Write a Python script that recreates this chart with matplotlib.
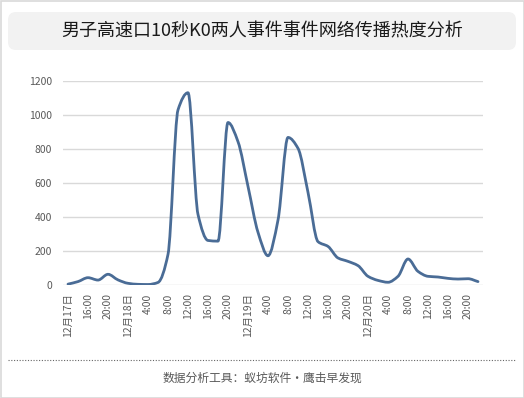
import matplotlib
matplotlib.use("Agg")
import matplotlib.pyplot as plt
from matplotlib.path import Path
from matplotlib.patches import PathPatch, FancyBboxPatch, Rectangle
from matplotlib.lines import Line2D
import matplotlib.transforms as mtransforms
import numpy as np

plt.rcParams['font.family'] = ['Noto Sans CJK SC', 'DejaVu Sans']

title = "男子高速口10秒K0两人事件事件网络传播热度分析"
footer = "数据分析工具：蚁坊软件·鹰击早发现"

# 2-hourly heat values from 12月17日 12:00 to 12月20日 22:00
values = [5, 20, 43, 29, 63, 30, 10, 4, 3, 15,
          180, 1030, 1131, 415, 262, 258, 956, 843, 580, 310,
          172, 382, 868, 804, 545, 255, 227, 159, 139, 114,
          51, 27, 16, 51, 153, 80, 51, 47, 39, 35,
          37, 20]
tick_labels = ['12月17日', '16:00', '20:00', '12月18日', '4:00', '8:00', '12:00',
               '16:00', '20:00', '12月19日', '4:00', '8:00', '12:00', '16:00',
               '20:00', '12月20日', '4:00', '8:00', '12:00', '16:00', '20:00']
y_ticks = [0, 200, 400, 600, 800, 1000, 1200]

W, H = 524, 398
fig = plt.figure(figsize=(W / 100, H / 100), dpi=100)
fig.patch.set_facecolor('white')

# outer border
fig.patches.append(Rectangle((0.5, 0.5), W - 1, H - 1, transform=mtransforms.IdentityTransform(),
                             fill=False, edgecolor='#d9d9d9', linewidth=1.2))
# title box
fig.patches.append(FancyBboxPatch((8, H - 50), 508, 38,
                                  boxstyle="round,pad=0,rounding_size=8",
                                  transform=mtransforms.IdentityTransform(),
                                  facecolor='#f2f2f2', edgecolor='none'))
fig.text(262 / W, 1 - 31 / H, title, ha='center', va='center', fontsize=13, color='#1a1a1a')

ax = fig.add_axes([63 / W, (H - 285) / H, (483 - 63) / W, (285 - 81) / H])
n = len(values)
x = np.arange(n, dtype=float)
y = np.array(values, dtype=float)

# smoothed line: cubic Bezier through the data points with monotone tangents
d = np.diff(y)
m = np.zeros(n)
m[0], m[-1] = d[0], d[-1]
for i in range(1, n - 1):
    if d[i - 1] * d[i] <= 0:
        m[i] = 0.0
    else:
        m[i] = 2.0 / (1.0 / d[i - 1] + 1.0 / d[i])
verts = [(x[0], y[0])]
codes = [Path.MOVETO]
for i in range(n - 1):
    verts += [(x[i] + 1 / 3, y[i] + m[i] / 3),
              (x[i + 1] - 1 / 3, y[i + 1] - m[i + 1] / 3),
              (x[i + 1], y[i + 1])]
    codes += [Path.CURVE4] * 3
ax.add_patch(PathPatch(Path(verts, codes), facecolor='none', edgecolor='#4a6c96',
                       linewidth=2.0, capstyle='round', joinstyle='round', zorder=3))

ax.set_xlim(-0.5, n - 0.5)
ax.set_ylim(0, 1200)
ax.set_yticks(y_ticks)
ax.set_yticklabels([str(v) for v in y_ticks])
ax.set_xticks(np.arange(0, n, 2))
ax.set_xticklabels(tick_labels, rotation=90, va='top', ha='center')
ax.grid(axis='y', color='#d9d9d9', linewidth=1.0)
ax.set_axisbelow(True)
for s in ax.spines.values():
    s.set_visible(False)
ax.tick_params(axis='both', length=0, labelsize=7.5, colors='#595959')
ax.tick_params(axis='y', pad=8)
ax.tick_params(axis='x', pad=6)

# dotted separator
fig.lines.append(Line2D([8 / W, 516 / W], [1 - 360 / H, 1 - 360 / H], transform=fig.transFigure,
                        color='#666666', linewidth=0.8, linestyle=(0, (1, 1.5))))
fig.text(262 / W, 1 - 378 / H, footer, ha='center', va='center', fontsize=8.5, color='#595959')

fig.savefig('out.png', dpi=100, facecolor='white')
